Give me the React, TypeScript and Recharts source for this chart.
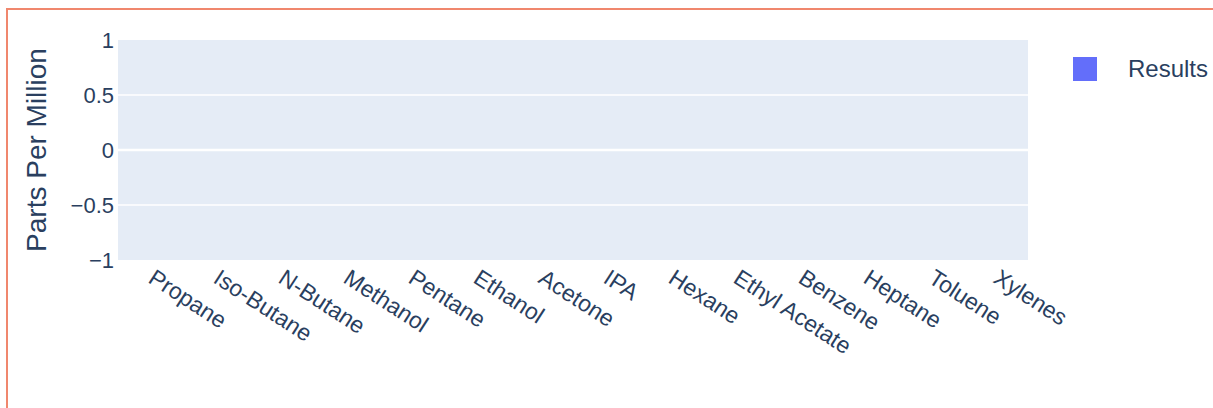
import React from "react";
import {
  BarChart,
  Bar,
  XAxis,
  YAxis,
  CartesianGrid,
  ReferenceLine,
  Label,
} from "recharts";

// solvents tested (residual solvent panel)
const categories = [
  "Propane",
  "Iso-Butane",
  "N-Butane",
  "Methanol",
  "Pentane",
  "Ethanol",
  "Acetone",
  "IPA",
  "Hexane",
  "Ethyl Acetate",
  "Benzene",
  "Heptane",
  "Toluene",
  "Xylenes",
];

// nothing detected: every result is 0 ppm
const results = [0, 0, 0, 0, 0, 0, 0, 0, 0, 0, 0, 0, 0, 0];

const yTicks = [1, 0.5, 0, -0.5, -1];

const data = categories.map((name, i) => ({ name, value: results[i] }));

const textColor = "#2a3f5f";
const font = '"Liberation Sans", Arial, sans-serif';

const fmt = (v: number) => String(v).replace("-", "\u2212");

function AngledTick(props: any) {
  const { x, y, payload } = props;
  return (
    <g transform={`translate(${x + 1},${y + 15})`}>
      <text
        transform="rotate(33)"
        textAnchor="start"
        dy="0.35em"
        fill={textColor}
        fontSize={23}
        fontFamily={font}
      >
        {payload.value}
      </text>
    </g>
  );
}

// zero-height bars still get an outline, like plotly's marker.line
function BarShape(props: any) {
  const { x, y, width, height } = props;
  const h = Math.abs(height || 0);
  return (
    <g>
      {h > 0 && <rect x={x} y={y} width={width} height={height} fill="#636EFA" />}
      <path
        d={`M${x},${y}h${width}${h > 0 ? `v${height}h${-width}z` : ""}`}
        fill="none"
        stroke="#E5ECF6"
        strokeWidth={1.2}
      />
    </g>
  );
}

export default function App() {
  return (
    <div style={{ position: "absolute", left: 0, top: 0, width: 1213, height: 408, background: "#fff" }}>
      <div
        style={{
          position: "absolute",
          left: 6,
          top: 8,
          width: 1213,
          height: 410,
          borderTop: "2px solid #f0876d",
          borderLeft: "2px solid #f0876d",
          boxSizing: "border-box",
        }}
      />
      <div style={{ position: "absolute", left: 0, top: 0 }}>
        <BarChart
          width={1213}
          height={408}
          data={data}
          margin={{ top: 40, right: 185, left: 0, bottom: 0 }}
          barCategoryGap="10%"
        >
          <CartesianGrid fill="#E5ECF6" horizontal={false} vertical={false} />
          <ReferenceLine y={0.5} stroke="#fff" strokeWidth={1.5} />
          <ReferenceLine y={-0.5} stroke="#fff" strokeWidth={1.5} />
          <ReferenceLine y={0} stroke="#fff" strokeWidth={2.5} />
          <XAxis
            dataKey="name"
            height={148}
            interval={0}
            axisLine={false}
            tickLine={false}
            tickSize={0}
            tickMargin={0}
            tick={<AngledTick />}
          />
          <YAxis
            type="number"
            domain={[-1, 1]}
            ticks={yTicks}
            width={118}
            axisLine={false}
            tickLine={false}
            tickSize={0}
            tickMargin={4}
            tickFormatter={fmt}
            tick={{ fill: textColor, fontSize: 22, fontFamily: font }}
          >
            <Label
              content={(p: any) => {
                const vb = p.viewBox || { x: 0, y: 40, width: 118, height: 220 };
                const cx = vb.x + 36;
                const cy = vb.y + vb.height / 2;
                return (
                  <text
                    x={cx}
                    y={cy}
                    transform={`rotate(-90, ${cx}, ${cy})`}
                    textAnchor="middle"
                    dominantBaseline="central"
                    fill={textColor}
                    fontSize={28}
                    fontFamily={font}
                  >
                    Parts Per Million
                  </text>
                );
              }}
            />
          </YAxis>
          <Bar dataKey="value" isAnimationActive={false} shape={<BarShape />} />
        </BarChart>
      </div>
      <div
        style={{
          position: "absolute",
          left: 1073,
          top: 55,
          display: "flex",
          alignItems: "center",
          fontFamily: font,
          fontSize: 24,
          color: textColor,
        }}
      >
        <span style={{ display: "inline-block", width: 24, height: 24, background: "#636EFA", marginRight: 31 }} />
        <span>Results</span>
      </div>
    </div>
  );
}
